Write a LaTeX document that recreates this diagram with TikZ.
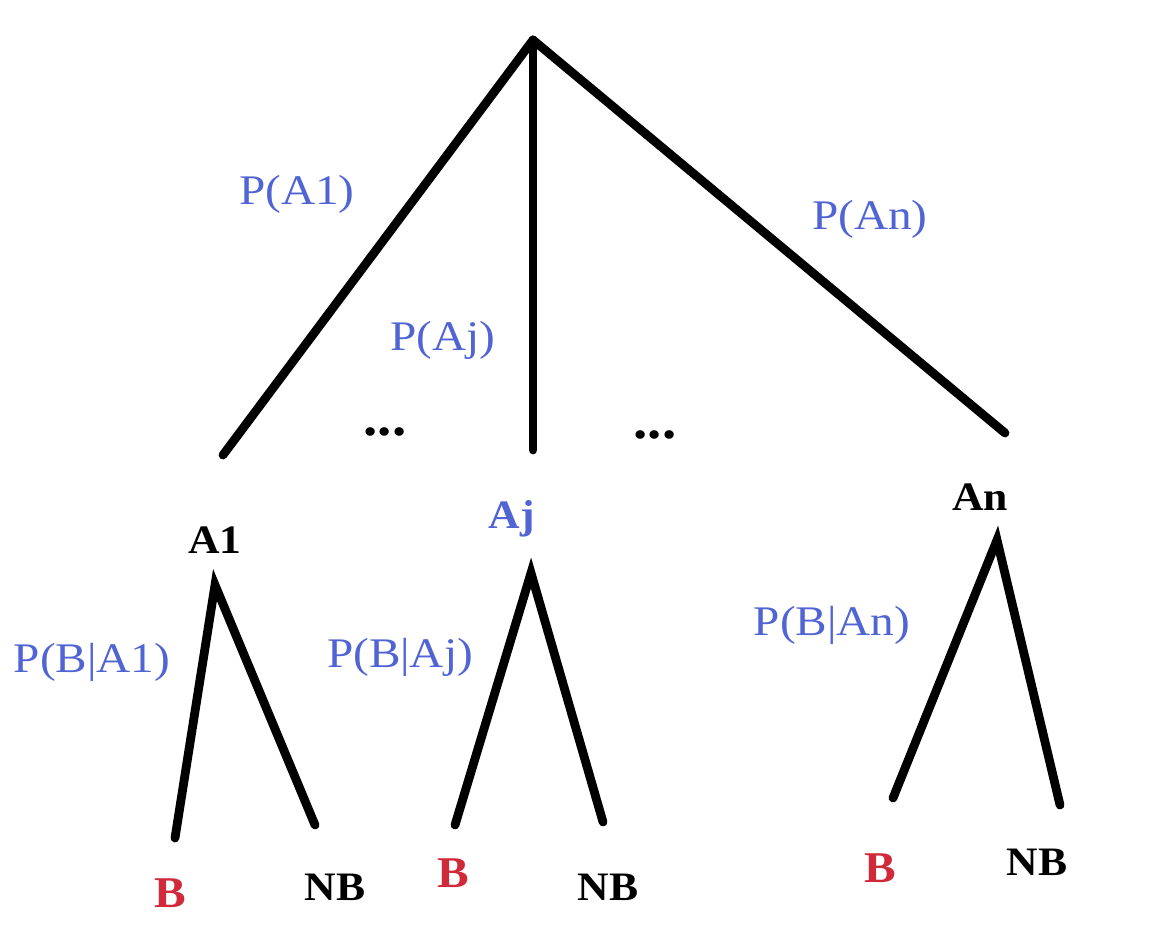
\documentclass[tikz,border=0pt]{standalone}
\usepackage{fontspec}
\setmainfont{Liberation Serif}
\newfontfamily\probfont[FakeStretch=1.12]{Liberation Serif}
\newfontfamily\eventfont[FakeStretch=1.08]{Liberation Serif}
\definecolor{probblue}{RGB}{80,100,212}
\definecolor{hitred}{RGB}{208,42,58}

\begin{document}
\begin{tikzpicture}[x=0.02cm, y=-0.02cm,
  branch/.style={line width=5pt, line cap=round},
  prob/.style={text=probblue, font=\probfont\fontsize{24}{26}\selectfont, inner sep=0pt},
  event/.style={font=\eventfont\bfseries\fontsize{23}{25}\selectfont, inner sep=0pt},
  hit/.style={text=hitred, font=\eventfont\bfseries\fontsize{25}{27}\selectfont, inner sep=0pt},
  gap/.style={font=\eventfont\bfseries\fontsize{30}{32}\selectfont, inner sep=0pt}]

\useasboundingbox (0,0) rectangle (1159,937);

% first level
\coordinate (root) at (533,40);
\coordinate (e1) at (223,455);
\coordinate (ej) at (533,450);
\coordinate (en) at (1005,433);
\draw[branch] (root)--(e1);
\draw[branch] (root)--(ej);
\draw[branch] (root)--(en);

\node[prob] (pa1) at (297,194) {P(A1)};
\node[prob] (paj) at (443,340) {P(Aj)};
\node[prob] (pan) at (870,219) {P(An)};
\node[gap] (dl) at (385,432) {...};
\node[gap] (dr) at (655,435) {...};

% second level
\node[event] (a1) at (215,540) {A1};
\node[event, text=probblue] (aj) at (512,519) {Aj};
\node[event] (an) at (980,497) {An};

\coordinate (t1) at (215,585);
\coordinate (tj) at (531,573);
\coordinate (tn) at (997,540);
\coordinate (b1) at (175,838);
\coordinate (n1) at (315,825);
\coordinate (bj) at (455,825);
\coordinate (nj) at (603,822);
\coordinate (bn) at (893,798);
\coordinate (nn) at (1060,805);
\foreach \t/\l/\r in {t1/b1/n1, tj/bj/nj, tn/bn/nn}
{
   \draw[branch] (\l)--(\t)--(\r);
}

\node[prob] (pb1) at (92,662) {P(B|A1)};
\node[prob] (pbj) at (400,657) {P(B|Aj)};
\node[prob] (pbn) at (832,625) {P(B|An)};

\node[hit] (B1) at (170,893) {B};
\node[event] (NB1) at (335,887) {NB};
\node[hit] (Bj) at (453,873) {B};
\node[event] (NBj) at (608,887) {NB};
\node[hit] (Bn) at (880,868) {B};
\node[event] (NBn) at (1037,862) {NB};
\end{tikzpicture}
\end{document}
